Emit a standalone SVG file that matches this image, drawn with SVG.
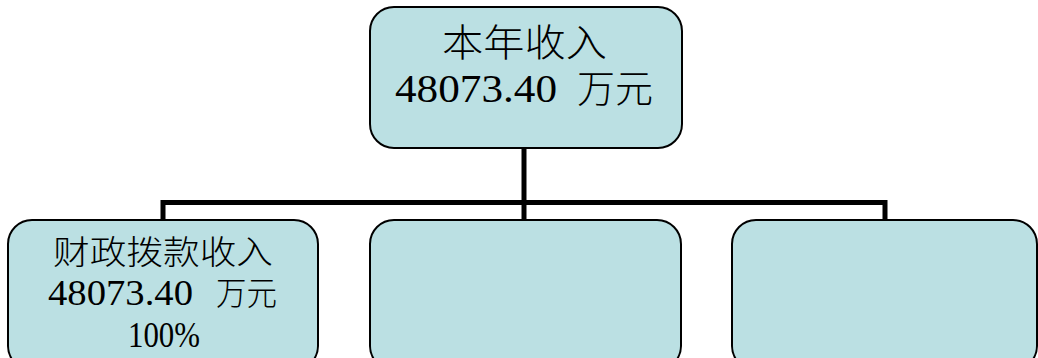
<svg xmlns="http://www.w3.org/2000/svg" width="1038" height="358" viewBox="0 0 1038 358">
<style>
.box{fill:#BBE0E3;stroke:#000;stroke-width:2}
.conn{fill:none;stroke:#000;stroke-width:5;stroke-linecap:butt;stroke-linejoin:miter}
.c{font-family:"Noto Sans CJK SC",sans-serif;font-weight:300;fill:#000}
.n{font-family:"Liberation Serif",serif;font-weight:400;fill:#000}
.t1{font-size:38px}
.t2{font-size:33px}
.n1{font-size:40px}
.n2{font-size:36px}
</style>
<rect width="1038" height="358" fill="#fff"/>
<g id="connectors">
<path class="conn" d="M524 148 V220"/>
<path class="conn" d="M163 220 V202.5 H885 V220"/>
</g>
<g id="node-top">
<rect class="box" x="370" y="7" width="312" height="141" rx="24"/>
<text class="c t1" x="442" y="56" textLength="165" lengthAdjust="spacingAndGlyphs">本年收入</text>
<text class="n n1" x="395" y="102" textLength="162" lengthAdjust="spacingAndGlyphs">48073.40</text>
<text class="c t1" x="577" y="102" textLength="76" lengthAdjust="spacingAndGlyphs">万元</text>
</g>
<g id="node-left">
<rect class="box" x="8" y="220" width="310" height="150" rx="24"/>
<text class="c t2" x="53" y="264" textLength="220" lengthAdjust="spacingAndGlyphs">财政拨款收入</text>
<text class="n n2" x="48" y="305" textLength="145" lengthAdjust="spacingAndGlyphs">48073.40</text>
<text class="c t2" x="216" y="305" textLength="61" lengthAdjust="spacingAndGlyphs">万元</text>
<text class="n n2" x="128" y="347" textLength="72" lengthAdjust="spacingAndGlyphs">100%</text>
</g>
<g id="node-middle">
<rect class="box" x="370" y="220" width="311" height="150" rx="24"/>
</g>
<g id="node-right">
<rect class="box" x="732" y="220" width="305" height="150" rx="24"/>
</g>
</svg>
